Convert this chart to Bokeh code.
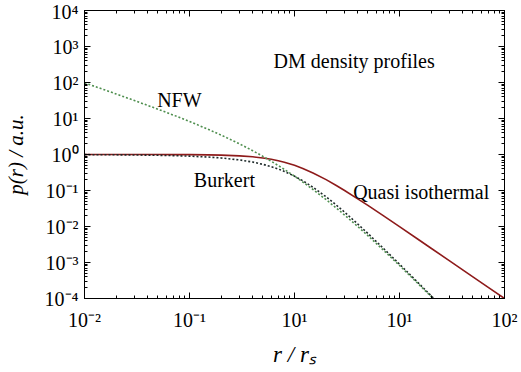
from bokeh.embed import file_html
from bokeh.models import (CustomJSTickFormatter, FixedTicker, Label, LogAxis,
                          Range1d)
from bokeh.plotting import figure
from bokeh.resources import INLINE

# Radius in units of the scale radius r_s
r = [0.01, 0.015, 0.02, 0.03, 0.05, 0.07, 0.1, 0.15, 0.2, 0.3, 0.4, 0.5,
     0.6, 0.7, 0.8, 1.0, 1.2, 1.5, 2.0, 2.5, 3.0, 4.0, 5.0, 7.0, 10.0,
     15.0, 20.0, 30.0, 50.0, 70.0, 100.0]

# Density profiles (arbitrary units)
nfw = [98.0, 64.7, 48.1, 31.4, 18.14, 12.48, 8.26, 5.04, 3.47, 1.97, 1.276,
       0.889, 0.651, 0.494, 0.386, 0.25, 0.172, 0.1067, 0.0556, 0.0327,
       0.0208, 0.01, 0.00556, 0.00223, 8.26e-4, 2.60e-4, 1.134e-4,
       3.47e-5, 7.7e-6, 2.8e-6, 9.8e-7]
burkert = [0.990, 0.985, 0.980, 0.970, 0.950, 0.930, 0.900, 0.850, 0.801,
           0.706, 0.616, 0.533, 0.460, 0.395, 0.339, 0.25, 0.186, 0.123,
           0.0667, 0.0394, 0.025, 0.01176, 0.00641, 0.0025, 9.0e-4,
           2.77e-4, 1.19e-4, 3.58e-5, 7.8e-6, 2.9e-6, 9.9e-7]
quasi = [0.9999, 0.9998, 0.9996, 0.9991, 0.9975, 0.9951, 0.9901, 0.978,
         0.9615, 0.9174, 0.8621, 0.8, 0.7353, 0.6711, 0.6098, 0.5, 0.4098,
         0.3077, 0.2, 0.1379, 0.1, 0.0588, 0.0385, 0.02, 0.0099, 0.00442,
         0.00249, 0.00111, 4.0e-4, 2.04e-4, 1.0e-4]

x_ticks = [0.01, 0.1, 1.0, 10.0, 100.0]
x_tick_labels = ["10\u207b\u00b2", "10\u207b\u00b9", "10\u00b9", "10\u00b9", "10\u00b2"]
y_ticks = [1e-4, 1e-3, 1e-2, 1e-1, 1.0, 1e1, 1e2, 1e3, 1e4]
y_tick_labels = ["10\u207b\u2074", "10\u207b\u00b3", "10\u207b\u00b2", "10\u207b\u00b9",
                 "10\u2070", "10\u00b9", "10\u00b2", "10\u00b3", "10\u2074"]

FONT = "Liberation Serif"


def minor_of(majors):
    out = []
    for m in majors[:-1]:
        out += [k * m for k in range(2, 10)]
    return out


p = figure(width=521, height=372, x_axis_type="log", y_axis_type="log",
           x_range=Range1d(0.01, 100), y_range=Range1d(1e-4, 1e4),
           output_backend="svg", toolbar_location=None,
           min_border_left=82, min_border_right=17,
           min_border_top=10, min_border_bottom=74)
p.xgrid.visible = False
p.ygrid.visible = False
p.outline_line_color = "black"
p.outline_line_width = 1
p.background_fill_color = "white"
p.border_fill_color = "white"

p.line(r, quasi, line_color="#8e1b1b", line_width=1.6)
p.line(r, burkert, line_color="#1f2b2b", line_width=1.6, line_dash="2 2")
p.line(r, nfw, line_color="#4f8f4f", line_width=1.6, line_dash="2 2")

xt = FixedTicker(ticks=x_ticks, minor_ticks=minor_of(x_ticks))
yt = FixedTicker(ticks=y_ticks, minor_ticks=minor_of(y_ticks))


def style(ax, ticker, labels=None):
    ax.ticker = ticker
    ax.axis_line_color = "black"
    ax.major_tick_line_color = "black"
    ax.minor_tick_line_color = "black"
    ax.major_tick_in = 6
    ax.major_tick_out = 0
    ax.minor_tick_in = 3
    ax.minor_tick_out = 0
    if labels is None:
        # frame-side ticks only: tiny invisible labels
        ax.major_label_text_font_size = "1px"
        ax.major_label_text_alpha = 0
        ax.major_label_standoff = 0
    else:
        ax.formatter = CustomJSTickFormatter(args=dict(labels=labels),
                                             code="return labels[index];")
        ax.major_label_text_font = FONT
        ax.major_label_text_font_size = "20px"
        ax.major_label_text_color = "black"
        ax.axis_label_text_font = FONT
        ax.axis_label_text_color = "black"
        ax.axis_label_text_font_style = "italic"


xa = p.xaxis[0]
style(xa, xt, x_tick_labels)
xa.major_label_standoff = 10
xa.axis_label = "r / r\u209b"
xa.axis_label_text_font_size = "23px"
xa.axis_label_standoff = 8

ya = p.yaxis[0]
style(ya, yt, y_tick_labels)
ya.major_label_standoff = 6
ya.axis_label = "p(r) / a.u."
ya.axis_label_text_font_size = "21px"
ya.axis_label_standoff = 14

top = LogAxis()
style(top, xt)
p.add_layout(top, "above")
right = LogAxis()
style(right, yt)
p.add_layout(right, "right")

# Curve annotations
note = dict(text_font=FONT, text_font_size="20px", text_color="black",
            text_baseline="alphabetic", text_align="left")
p.add_layout(Label(x=0.0492, y=33.7, text="NFW", **note))
p.add_layout(Label(x=0.110, y=0.19, text="Burkert", **note))
p.add_layout(Label(x=3.62, y=0.088, text="Quasi isothermal", **note))
p.add_layout(Label(x=0.632, y=408, text="DM density profiles", **note))

open("out.html", "w").write(file_html(p, INLINE))
